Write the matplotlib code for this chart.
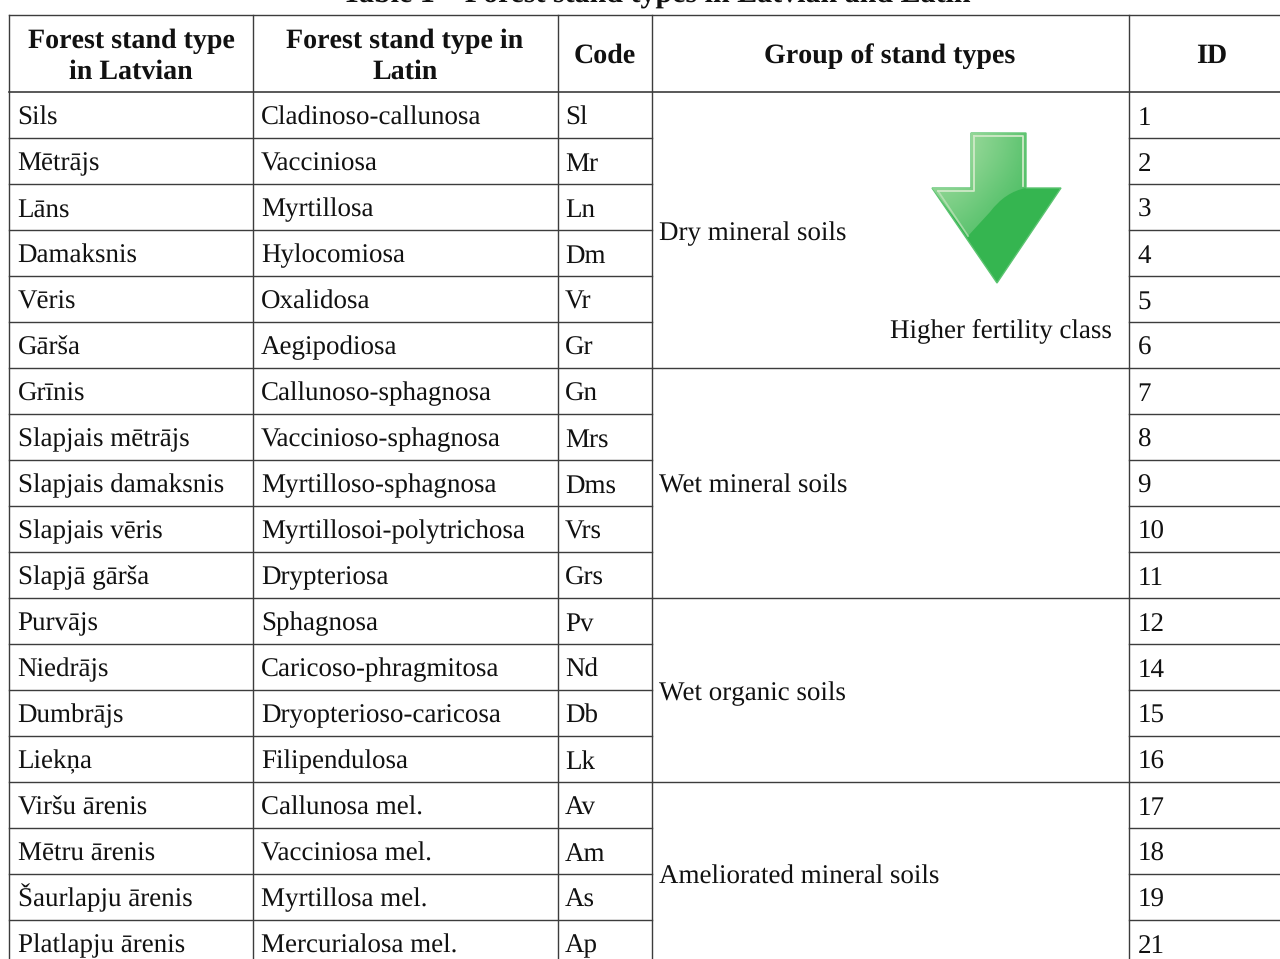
#%% Dependencies
import matplotlib
matplotlib.use("Agg")
import matplotlib.pyplot as plt
import numpy as np
from matplotlib.colors import LinearSegmentedColormap
from matplotlib.patches import PathPatch, Polygon
from matplotlib.path import Path

#%% Data
title = "Table 1 – Forest stand types in Latvian and Latin"
latvian = ["Sils", "Mētrājs", "Lāns", "Damaksnis", "Vēris", "Gārša", "Grīnis",
           "Slapjais mētrājs", "Slapjais damaksnis", "Slapjais vēris", "Slapjā gārša",
           "Purvājs", "Niedrājs", "Dumbrājs", "Liekņa", "Viršu ārenis", "Mētru ārenis",
           "Šaurlapju ārenis", "Platlapju ārenis"]
latin = ["Cladinoso-callunosa", "Vacciniosa", "Myrtillosa", "Hylocomiosa", "Oxalidosa",
         "Aegipodiosa", "Callunoso-sphagnosa", "Vaccinioso-sphagnosa", "Myrtilloso-sphagnosa",
         "Myrtillosoi-polytrichosa", "Drypteriosa", "Sphagnosa", "Caricoso-phragmitosa",
         "Dryopterioso-caricosa", "Filipendulosa", "Callunosa mel.", "Vacciniosa mel.",
         "Myrtillosa mel.", "Mercurialosa mel."]
codes = ["Sl", "Mr", "Ln", "Dm", "Vr", "Gr", "Gn", "Mrs", "Dms", "Vrs", "Grs",
         "Pv", "Nd", "Db", "Lk", "Av", "Am", "As", "Ap"]
ids = [1, 2, 3, 4, 5, 6, 7, 8, 9, 10, 11, 12, 14, 15, 16, 17, 18, 19, 21]
groups = ["Dry mineral soils", "Wet mineral soils", "Wet organic soils", "Ameliorated mineral soils"]
group_sizes = [6, 5, 4, 4]
group_label_y = [240, 493, 700, 884]

#%% Layout
col_x = [9, 253, 558, 652, 1129]
top = 15
head = 92
row_h = 46
line_c = "#3c3c3c"
txt_c = "#111111"
fs = 19.4

plt.rcParams["font.family"] = ["Liberation Serif", "DejaVu Serif"]
plt.rcParams["text.hinting"] = "no_hinting"
plt.rcParams["text.hinting_factor"] = 1

fig = plt.figure(figsize=(12.8, 9.59), dpi=100)
ax = fig.add_axes([0, 0, 1, 1])
ax.set_xlim(0, 1280)
ax.set_ylim(959, 0)
ax.axis("off")

ax.text(656, 3, title, ha="center", va="baseline", fontsize=21.6, fontweight="bold", color=txt_c)

# frame and column rules
ax.plot([col_x[0], 1280], [top, top], color=line_c, lw=1)
ax.plot([col_x[0], 1280], [head, head], color=line_c, lw=1.2)
for x in col_x:
    ax.plot([x, x], [top, 959], color=line_c, lw=1)

# row rules, the group column only breaks between groups
breaks = np.cumsum(group_sizes)
for i in range(1, len(latvian) + 1):
    y = head + i * row_h
    ax.plot([col_x[0], col_x[3]], [y, y], color=line_c, lw=1)
    ax.plot([col_x[4], 1280], [y, y], color=line_c, lw=1)
    if i in breaks:
        ax.plot([col_x[3], col_x[4]], [y, y], color=line_c, lw=1)

# header
hd = dict(ha="center", va="baseline", fontsize=20.3, fontweight="bold", color=txt_c)
ax.text(131, 48, "Forest stand type", **hd)
ax.text(131, 79, "in Latvian", **hd)
ax.text(405, 48, "Forest stand type in", **hd)
ax.text(405, 79, "Latin", **hd)
ax.text(605, 63, "Code", **hd)
ax.text(890, 63, "Group of stand types", **hd)
ax.text(1212, 63, "ID", **hd)

# body
for i in range(len(latvian)):
    y = head + i * row_h + 32.6
    ax.text(17.5, y, latvian[i], fontsize=fs, color=txt_c, va="baseline")
    ax.text(261, y, latin[i], fontsize=fs, color=txt_c, va="baseline")
    ax.text(565, y, codes[i], fontsize=fs, color=txt_c, va="baseline")
    ax.text(1137.5, y, str(ids[i]), fontsize=fs, color=txt_c, va="baseline")

for g, y in zip(groups, group_label_y):
    ax.text(659, y, g, fontsize=fs, color=txt_c, va="baseline")

ax.text(1000.5, 337, "Higher fertility class", fontsize=fs, color=txt_c, ha="center", va="baseline")

# arrow: solid green body, lighter glossy part on top
outline = [(971, 133), (1026, 133), (1026, 188), (1061, 188), (997, 283), (932, 188), (971, 188)]
ax.add_patch(Polygon(outline, closed=True, fc="#35b550", ec="#5cc471", lw=1.0, zorder=3))

grad = np.array([[0.0, 0.3, 0.6, 1.0], [0.3, 0.55, 0.8, 1.0], [0.6, 0.8, 1.0, 1.0], [1.0, 1.0, 1.0, 1.0]])
cm = LinearSegmentedColormap.from_list("gloss", ["#aadfa6", "#48bc61"])
im = ax.imshow(grad, extent=(932, 1061, 283, 133), cmap=cm, interpolation="bicubic", aspect="auto", zorder=4)
gloss = Path([(971, 133), (1026, 133), (1026, 188), (1005, 192), (990, 212), (968, 236), (932, 188), (971, 188), (971, 133)],
             [Path.MOVETO, Path.LINETO, Path.LINETO, Path.CURVE3, Path.CURVE3, Path.LINETO, Path.LINETO, Path.LINETO, Path.CLOSEPOLY])
clip = PathPatch(gloss, transform=ax.transData, fc="none", ec="none")
ax.add_patch(clip)
im.set_clip_path(clip)
ax.set_xlim(0, 1280)
ax.set_ylim(959, 0)

edge = "#cfe9c8"
ax.plot([974, 974, 938], [136, 191, 191], color=edge, lw=1.3, zorder=5)
ax.plot([974, 1023, 1023], [136, 136, 186], color=edge, lw=1.3, zorder=5)
ax.plot([938, 968], [191, 236], color=edge, lw=1.3, zorder=5, alpha=0.6)

fig.savefig("out.png", dpi=100)
